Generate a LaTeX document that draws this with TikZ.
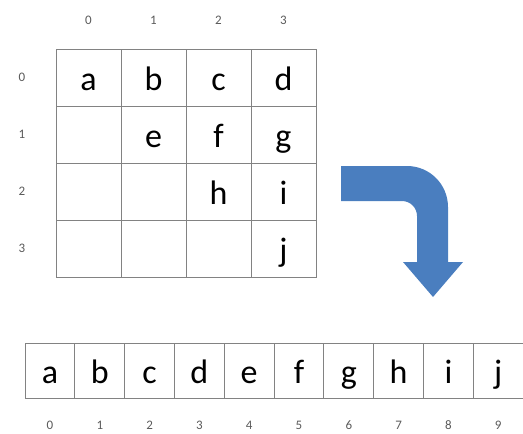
\documentclass[tikz,border=0pt]{standalone}
\usepackage{fontspec}
\setmainfont{Carlito}
\definecolor{gridc}{RGB}{130,130,130}
\definecolor{arrowc}{RGB}{74,126,191}
\definecolor{idxc}{RGB}{90,90,90}
\begin{document}
\begin{tikzpicture}[x=1pt,y=-1pt,
  cell/.style={draw=gridc,line width=0.9pt,minimum width=65pt,minimum height=57pt,inner sep=0pt},
  lcell/.style={draw=gridc,line width=0.9pt,minimum width=49.8pt,minimum height=55pt,inner sep=0pt},
  letter/.style={anchor=base,inner sep=0pt,font=\fontsize{34}{34}\selectfont},
  idx/.style={text=idxc,font=\fontsize{13}{13}\selectfont,inner sep=0pt}]
\useasboundingbox (0,0) rectangle (523,434);
% column indices
\foreach \c/\x in {0/88.5,1/153.5,2/218.5,3/283.5}
  \node[idx] (ch\c) at (\x,20) {\c};
% row indices
\foreach \r/\y in {0/77.5,1/134.5,2/191.5,3/248.5}
  \node[idx] (rh\r) at (22,\y) {\r};
% grid cells
\foreach \r/\y in {0/77.5,1/134.5,2/191.5,3/248.5}
  \foreach \c/\x in {0/88.5,1/153.5,2/218.5,3/283.5}
    \node[cell] (m\r\c) at (\x,\y) {};
\foreach \n/\t in {00/a,01/b,02/c,03/d,11/e,12/f,13/g,22/h,23/i,33/j}
  \node[letter] (t\n) at ([yshift=-12.5pt]m\n.center) {\t};
% linear array
\foreach \i/\t in {0/a,1/b,2/c,3/d,4/e,5/f,6/g,7/h,8/i,9/j}{
  \node[lcell] (l\i) at ({50+\i*49.8},370.5) {};
  \node[letter] (lt\i) at ([yshift=-12.5pt]l\i.center) {\t};
  \node[idx] (li\i) at ({50+\i*49.8},425) {\i};
}
% bent arrow
\fill[arrowc] (341,166) -- (407,166) arc[start angle=-90,end angle=0,radius=41] -- (448,262) -- (463,262) -- (433,297) -- (403,262) -- (417,262) -- (417,216) arc[start angle=0,end angle=-90,radius=15] -- (341,201) -- cycle;
\end{tikzpicture}
\end{document}
